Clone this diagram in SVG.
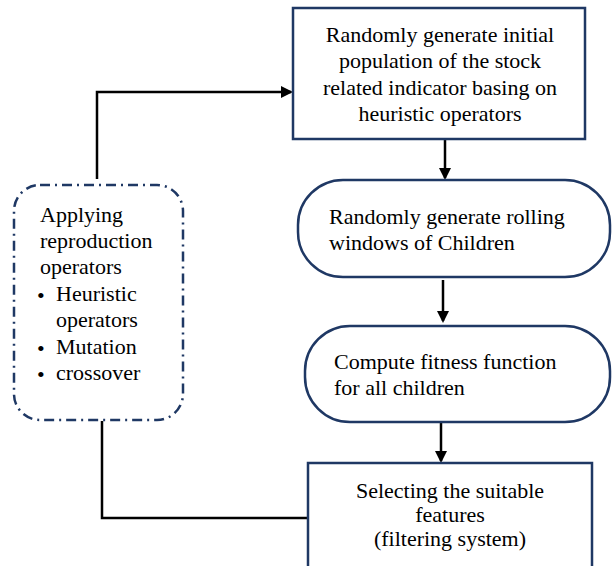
<svg xmlns="http://www.w3.org/2000/svg" width="613" height="566" viewBox="0 0 613 566">
  <defs>
    <marker id="arrow" markerWidth="12" markerHeight="12" refX="10" refY="6" orient="auto" markerUnits="userSpaceOnUse" viewBox="0 0 12 12">
      <path d="M0,0 L12,6 L0,12 Z" fill="#000"/>
    </marker>
    <style>
      .box { fill: #fff; stroke: #1f3864; stroke-width: 2.5; }
      .dashbox { fill: none; stroke: #1f3864; stroke-width: 2.5; stroke-dasharray: 10 5 2 5; }
      .conn { fill: none; stroke: #000; stroke-width: 2.5; }
      .t { font-family: "Liberation Serif", "Times New Roman", serif; font-size: 22px; fill: #000; }
      .c { text-anchor: middle; }
    </style>
  </defs>

  <rect width="613" height="566" fill="#fff"/>

  <!-- connectors -->
  <g id="connectors">
    <path class="conn" d="M97,179 V92 H291" marker-end="url(#arrow)"/>
    <path class="conn" d="M445,139 V178" marker-end="url(#arrow)"/>
    <path class="conn" d="M443,280 V321" marker-end="url(#arrow)"/>
    <path class="conn" d="M441,422 V461" marker-end="url(#arrow)"/>
    <path class="conn" d="M308,518 H102 V421"/>
  </g>

  <!-- initial population -->
  <g id="init">
    <rect class="box" x="293" y="8" width="292" height="131"/>
    <text class="t c" x="440" y="42">Randomly generate initial</text>
    <text class="t c" x="440" y="68">population of the stock</text>
    <text class="t c" x="440" y="95">related indicator basing on</text>
    <text class="t c" x="440" y="121">heuristic operators</text>
  </g>

  <!-- rolling windows -->
  <g id="rolling">
    <rect class="box" x="298" y="180" width="312" height="97" rx="45" ry="45"/>
    <text class="t" x="329" y="224">Randomly generate rolling</text>
    <text class="t" x="329" y="250">windows of Children</text>
  </g>

  <!-- fitness -->
  <g id="fitness">
    <rect class="box" x="305" y="326" width="305" height="96" rx="45" ry="45"/>
    <text class="t" x="334" y="369">Compute fitness function</text>
    <text class="t" x="334" y="395">for all children</text>
  </g>

  <!-- selection -->
  <g id="select">
    <rect class="box" x="308" y="463" width="284" height="120"/>
    <text class="t c" x="450" y="498">Selecting the suitable</text>
    <text class="t c" x="450" y="522">features</text>
    <text class="t c" x="450" y="546">(filtering system)</text>
  </g>

  <!-- reproduction operators -->
  <g id="reproduce">
    <rect class="dashbox" x="14" y="185" width="169" height="235" rx="26" ry="26"/>
    <text class="t" x="40" y="222">Applying</text>
    <text class="t" x="40" y="248">reproduction</text>
    <text class="t" x="40" y="274">operators</text>
    <text class="t" x="37" y="303" font-size="15">•</text>
    <text class="t" x="56" y="301">Heuristic</text>
    <text class="t" x="56" y="327">operators</text>
    <text class="t" x="37" y="356" font-size="15">•</text>
    <text class="t" x="56" y="354">Mutation</text>
    <text class="t" x="37" y="382" font-size="15">•</text>
    <text class="t" x="56" y="380">crossover</text>
  </g>
</svg>
